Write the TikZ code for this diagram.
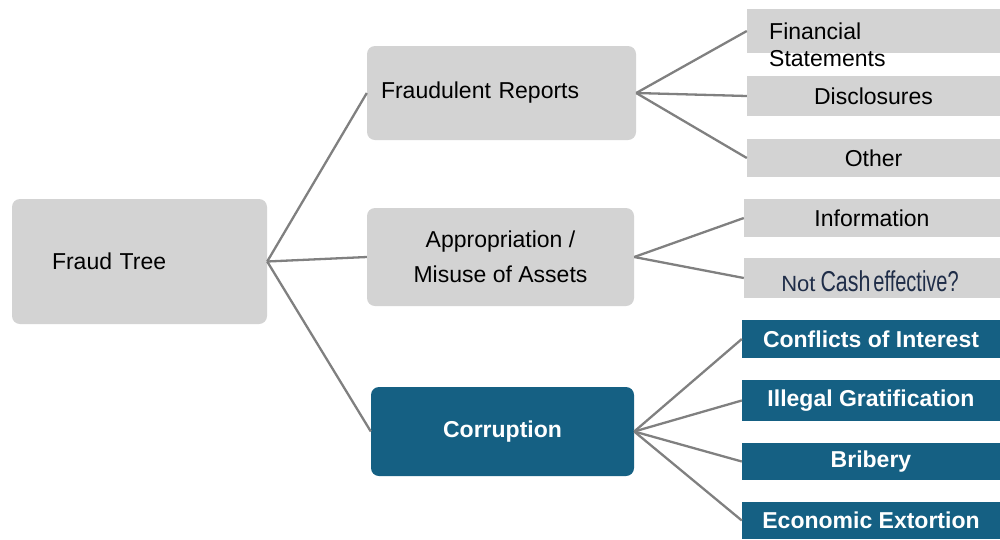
\documentclass[tikz,border=0pt]{standalone}
\usepackage{fontspec}
\usepackage{graphicx}
\setmainfont{Liberation Sans}
\definecolor{boxgray}{HTML}{D3D3D3}
\definecolor{linkgray}{HTML}{808080}
\definecolor{deepteal}{HTML}{156083}
\definecolor{navytext}{HTML}{1F2D48}
\begin{document}
\begin{tikzpicture}[x=1pt,y=-1pt,
  every node/.style={font=\fontsize{23}{27}\selectfont},
  midbox/.style={fill=boxgray, rounded corners=8pt, inner sep=0pt},
  leafbox/.style={fill=boxgray, inner sep=0pt},
  tealbox/.style={fill=deepteal, text=white, inner sep=0pt,
    font=\fontsize{23}{27}\selectfont\bfseries},
  link/.style={draw=linkgray, line width=2.3pt}]
\useasboundingbox (0,0) rectangle (1000,539);

% root and second level
\node[midbox, minimum width=255pt, minimum height=125pt,
      text width=175pt, inner xsep=40pt, align=left]
  (root) at (139.5,261.5) {Fraud Tree};
\node[midbox, minimum width=269pt, minimum height=94pt,
      text width=241pt, inner xsep=14pt, align=left]
  (fr) at (501.5,93) {Fraudulent Reports};
\node[midbox, minimum width=267pt, minimum height=98pt, align=center,
      font=\fontsize{23}{35}\selectfont]
  (ap) at (500.5,257) {Appropriation /\\Misuse of Assets};
\node[midbox, fill=deepteal, text=white, minimum width=263pt, minimum height=89pt,
      font=\fontsize{23}{27}\selectfont\bfseries]
  (co) at (502.5,431.5) {Corruption};

% fraudulent reports leaves
\node[leafbox, minimum width=253pt, minimum height=44pt] (fs) at (873.5,31) {};
\node[anchor=west, align=left, inner sep=0pt, font=\fontsize{23}{27}\selectfont]
  (fstext) at (769,44.5) {Financial\\Statements};
\node[leafbox, minimum width=253pt, minimum height=40pt] (ds) at (873.5,96) {Disclosures};
\node[leafbox, minimum width=253pt, minimum height=38pt] (ot) at (873.5,158) {Other};

% appropriation leaves
\node[leafbox, minimum width=256pt, minimum height=38pt] (in) at (872,218) {Information};
\node[leafbox, minimum width=256pt, minimum height=40pt] (nc) at (872,278) {};
\node[inner sep=0pt, text=navytext, anchor=base] (nctext) at (870,291)
  {{\fontsize{22}{22}\selectfont Not}\hspace{5pt}\scalebox{0.93}[1.25]{Cash}\hspace{3pt}\scalebox{0.87}[1.25]{effective?}};

% corruption leaves
\node[tealbox, minimum width=258pt, minimum height=38pt] (cf) at (871,339) {Conflicts of Interest};
\node[tealbox, minimum width=258pt, minimum height=41pt] (ig) at (871,400.5) {Illegal Gratification};
\node[tealbox, minimum width=258pt, minimum height=37pt] (br) at (871,461.5) {Bribery};
\node[tealbox, minimum width=258pt, minimum height=37pt] (ee) at (871,520.5) {Economic Extortion};

% connectors
\draw[link] (root.east) -- (fr.west);
\draw[link] (root.east) -- (ap.west);
\draw[link] (root.east) -- (co.west);
\draw[link] (fr.east) -- (fs.west);
\draw[link] (fr.east) -- (ds.west);
\draw[link] (fr.east) -- (ot.west);
\draw[link] (ap.east) -- (in.west);
\draw[link] (ap.east) -- (nc.west);
\draw[link] (co.east) -- (cf.west);
\draw[link] (co.east) -- (ig.west);
\draw[link] (co.east) -- (br.west);
\draw[link] (co.east) -- (ee.west);
\end{tikzpicture}
\end{document}
